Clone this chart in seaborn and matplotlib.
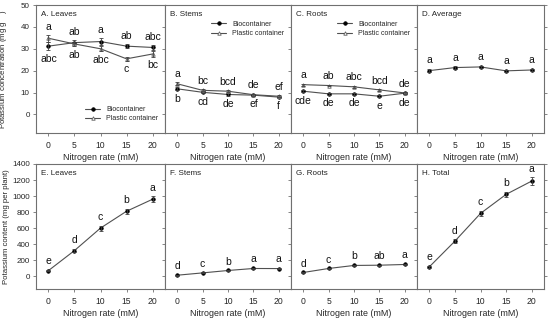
import numpy as np
import pandas as pd
import matplotlib
matplotlib.use("Agg")
import matplotlib.pyplot as plt
import seaborn as sns

sns.set_style("ticks")
plt.rcParams["font.family"] = ["Liberation Sans", "DejaVu Sans"]

# nitrogen rates (mM)
n_rate = [0, 5, 10, 15, 20]

# concentration (mg/g), top row
leaves_bio = [31.2, 32.8, 33.3, 31.2, 30.6]
leaves_pla = [34.8, 32.2, 30.0, 25.4, 27.6]
leaves_bio_err = [1.8, 1.2, 1.5, 0.8, 1.0]
leaves_pla_err = [1.5, 1.0, 1.2, 1.0, 1.2]
leaves_top = ["a", "ab", "a", "ab", "abc"]
leaves_bot = ["abc", "ab", "abc", "c", "bc"]

stems_bio = [11.7, 10.1, 9.1, 8.8, 7.9]
stems_pla = [14.0, 11.0, 10.6, 9.0, 8.3]
stems_bio_err = [0.6, 0.5, 0.5, 0.4, 0.4]
stems_pla_err = [0.6, 0.5, 0.5, 0.4, 0.4]
stems_top = ["a", "bc", "bcd", "de", "ef"]
stems_bot = ["b", "cd", "de", "ef", "f"]

roots_bio = [10.6, 9.4, 9.4, 8.3, 9.7]
roots_pla = [13.6, 13.2, 12.6, 11.2, 9.8]
roots_bio_err = [0.4, 0.4, 0.4, 0.4, 0.4]
roots_pla_err = [0.4, 0.4, 0.4, 0.4, 0.4]
roots_top = ["a", "ab", "abc", "bcd", "de"]
roots_bot = ["cde", "de", "de", "e", "de"]

avg_conc = [20.0, 21.4, 21.7, 19.9, 20.3]
avg_err = [0.8, 0.5, 0.6, 0.5, 0.5]
avg_lab = ["a", "a", "a", "a", "a"]

# content (mg per plant), bottom row
leaves_cont = [70, 320, 600, 810, 960]
leaves_cont_err = [10, 20, 30, 30, 40]
leaves_cont_lab = ["e", "d", "c", "b", "a"]
stems_cont = [12, 41, 71, 96, 95]
stems_cont_err = [4, 5, 6, 8, 8]
stems_cont_lab = ["d", "c", "b", "a", "a"]
roots_cont = [46, 96, 134, 137, 146]
roots_cont_err = [5, 6, 8, 8, 8]
roots_cont_lab = ["d", "c", "b", "ab", "a"]
total_cont = [116, 437, 783, 1021, 1187]
total_cont_err = [12, 25, 35, 35, 50]
total_cont_lab = ["e", "d", "c", "b", "a"]

W, H = 550, 322
fig = plt.figure(figsize=(W / 100, H / 100), dpi=100)

lefts = [36, 165, 291, 417]
rights = [165, 291, 417, 544]


def make_ax(i, top, bottom):
    return fig.add_axes([lefts[i] / W, (H - bottom) / H,
                         (rights[i] - lefts[i]) / W, (bottom - top) / H])


line_c = "#505050"
edge_c = "#707070"


def style(ax, title, ylim, yticks, show_ylab, right_ticks=False):
    ax.set_xlim(-2.4, 22.4)
    ax.set_ylim(*ylim)
    ax.set_xticks(n_rate)
    ax.set_yticks(yticks)
    ax.tick_params(labelsize=5.8, length=2, width=0.6, color=edge_c, pad=2.5)
    ax.tick_params(axis="x", labelsize=6.2, pad=4)
    if not show_ylab:
        ax.set_yticklabels([])
    if right_ticks:
        ax.tick_params(axis="y", right=True, direction="out")
    for s in ax.spines.values():
        s.set_visible(True)
        s.set_color(edge_c)
        s.set_linewidth(0.8)
    ax.set_xlabel("Nitrogen rate (mM)", fontsize=6.4, labelpad=2)
    ax.set_ylabel("")
    ax.text(0.04, 0.95, title, transform=ax.transAxes, fontsize=5.8,
            va="top", ha="left", color="#222222")


def draw_series(ax, y, err, marker, filled, label=None):
    df = pd.DataFrame({"x": n_rate, "y": y})
    sns.lineplot(data=df, x="x", y="y", ax=ax, color=line_c, lw=0.8,
                 marker=marker, markersize=2.5,
                 markerfacecolor=("black" if filled else "white"),
                 markeredgecolor=("black" if filled else "#606060"),
                 markeredgewidth=0.6, label=label, legend=False)
    ax.errorbar(n_rate, y, yerr=err, fmt="none", ecolor="#404040",
                elinewidth=0.6, capsize=1.5, capthick=0.6)


def letters(ax, ys, labs, dy, va):
    for x, y, t in zip(n_rate, ys, labs):
        ax.annotate(t, (x, y), xytext=(0, dy), textcoords="offset points",
                    ha="center", va=va, fontsize=7.5, color="#111111")


top_t, top_b = 5, 133
bot_t, bot_b = 164, 289

conc = [
    ("A. Leaves", leaves_bio, leaves_pla, leaves_bio_err, leaves_pla_err, leaves_top, leaves_bot, "lower right"),
    ("B. Stems", stems_bio, stems_pla, stems_bio_err, stems_pla_err, stems_top, stems_bot, "upper right"),
    ("C. Roots", roots_bio, roots_pla, roots_bio_err, roots_pla_err, roots_top, roots_bot, "upper right"),
]

for i, (title, bio, pla, be, pe, lt, lb, loc) in enumerate(conc):
    ax = make_ax(i, top_t, top_b)
    draw_series(ax, bio, be, "o", True, "Biocontainer")
    draw_series(ax, pla, pe, "^", False, "Plastic container")
    hi = np.maximum(np.array(bio) + be, np.array(pla) + pe)
    lo = np.minimum(np.array(bio) - be, np.array(pla) - pe)
    letters(ax, hi, lt, 2.5, "bottom")
    letters(ax, lo, lb, -2.5, "top")
    style(ax, title, (-8.5, 50), [0, 10, 20, 30, 40, 50], i == 0)
    ax.legend(loc=loc, fontsize=5, frameon=False, handlelength=2.2,
              borderaxespad=0.6, labelspacing=0.3,
              bbox_to_anchor=(1.0, 0.93) if loc == "upper right" else (1.0, 0.03))
    if i == 0:
        ax.set_ylabel(r"Potassium concentration (mg g$^{-1}$)", fontsize=5.6)
        ax.yaxis.set_label_coords(-0.2, 0.5)

ax = make_ax(3, top_t, top_b)
draw_series(ax, avg_conc, avg_err, "o", True)
letters(ax, np.array(avg_conc) + avg_err, avg_lab, 2.5, "bottom")
style(ax, "D. Average", (-8.5, 50), [0, 10, 20, 30, 40, 50], False, right_ticks=True)

cont = [
    ("E. Leaves", leaves_cont, leaves_cont_err, leaves_cont_lab),
    ("F. Stems", stems_cont, stems_cont_err, stems_cont_lab),
    ("G. Roots", roots_cont, roots_cont_err, roots_cont_lab),
    ("H. Total", total_cont, total_cont_err, total_cont_lab),
]
for i, (title, y, e, lab) in enumerate(cont):
    ax = make_ax(i, bot_t, bot_b)
    draw_series(ax, y, e, "o", True)
    letters(ax, np.array(y) + e, lab, 2.5, "bottom")
    style(ax, title, (-160, 1400), list(range(0, 1401, 200)), i == 0, right_ticks=(i == 3))
    if i == 0:
        ax.set_ylabel("Potassium content (mg per plant)", fontsize=5.6)
        ax.yaxis.set_label_coords(-0.2, 0.5)

fig.savefig("out.png", dpi=100)
